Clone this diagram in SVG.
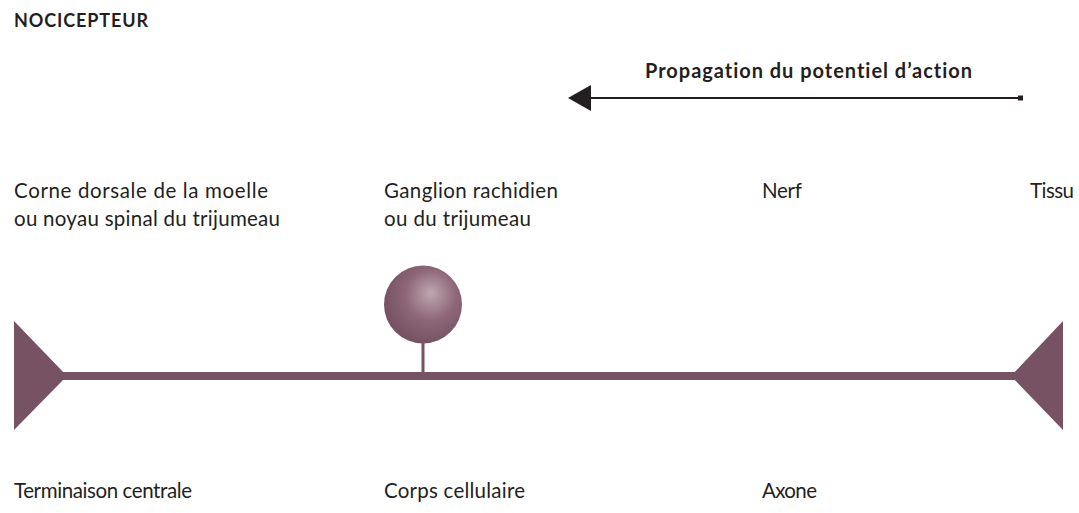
<svg xmlns="http://www.w3.org/2000/svg" width="1079" height="513" viewBox="0 0 1079 513">
<style>
text{font-family:Lato,"Open Sans",sans-serif;fill:#231f20;font-size:20.5px;font-variant-ligatures:none}
.b{font-weight:bold;font-size:20px}
.t{font-weight:bold;font-size:18px}
.p{fill:#765262}
</style>
<defs>
<radialGradient id="g" cx="0.6" cy="0.4" r="0.6" fx="0.6" fy="0.35">
<stop offset="0" stop-color="#c0a6b1"/>
<stop offset="0.55" stop-color="#8d6777"/>
<stop offset="1" stop-color="#765262"/>
</radialGradient>
</defs>
<rect width="1079" height="513" fill="#fff"/>
<text class="t" x="14" y="27" textLength="134">NOCICEPTEUR</text>
<g id="propagation">
<text class="b" x="645" y="78" textLength="327">Propagation du potentiel d’action</text>
<line x1="588" y1="98" x2="1021" y2="98" stroke="#231f20" stroke-width="2.2"/>
<rect x="1018" y="95.5" width="5" height="5" fill="#231f20"/>
<polygon points="568,98 591,85 591,111" fill="#231f20"/>
</g>
<g id="connectors">
<rect class="p" x="60" y="372" width="958" height="8"/>
<rect class="p" x="421.5" y="340" width="3" height="34"/>
</g>
<g id="central">
<polygon class="p" points="14,321 67,376 14,430"/>
<text x="14" y="198" textLength="254">Corne dorsale de la moelle</text>
<text x="14" y="226" textLength="266">ou noyau spinal du trijumeau</text>
<text x="14" y="498" textLength="178">Terminaison centrale</text>
</g>
<g id="ganglion">
<circle cx="423" cy="304.5" r="39" fill="url(#g)"/>
<text x="384" y="198" textLength="174">Ganglion rachidien</text>
<text x="384" y="226" textLength="147">ou du trijumeau</text>
<text x="384" y="498" textLength="141">Corps cellulaire</text>
</g>
<g id="nerf">
<text x="762" y="198" textLength="40">Nerf</text>
<text x="762" y="498" textLength="55">Axone</text>
</g>
<g id="tissu">
<polygon class="p" points="1063,321 1011,376 1063,430"/>
<text x="1030" y="198" textLength="44">Tissu</text>
</g>
</svg>
